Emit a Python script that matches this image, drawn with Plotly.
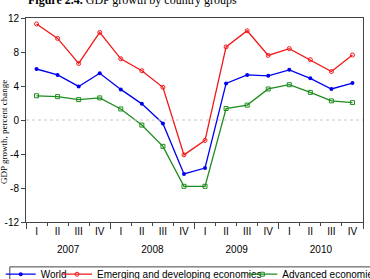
import plotly.graph_objects as go

quarters = ["I", "II", "III", "IV"] * 4
years = ["2007", "2008", "2009", "2010"]
world = [6.0, 5.3, 3.95, 5.5, 3.6, 1.9, -0.4, -6.35, -5.65, 4.3, 5.3, 5.2, 5.9, 4.9, 3.65, 4.35]
emerging = [11.3, 9.6, 6.65, 10.3, 7.2, 5.8, 3.85, -4.1, -2.4, 8.6, 10.5, 7.6, 8.4, 7.1, 5.7, 7.65]
advanced = [2.85, 2.75, 2.4, 2.6, 1.3, -0.6, -3.1, -7.8, -7.8, 1.35, 1.75, 3.65, 4.15, 3.25, 2.25, 2.05]
yticks = [12, 8, 4, 0, -4, -8, -12]
yticktext = ["12", "8", "4", "0", "-4", "-8", "-12"]

idx = list(range(len(quarters)))
qbounds = [i - 0.5 for i in range(len(quarters) + 1)]
ybounds = [i * 4 - 0.5 for i in range(len(years) + 1)]
ycenters = [i * 4 + 1.5 for i in range(len(years))]

fig = go.Figure()
fig.add_trace(go.Scatter(x=idx, y=world, name="World", mode="lines+markers",
                         line=dict(color="#0000F0", width=1.3),
                         marker=dict(symbol="circle", size=4, color="#0000F0"),
                         legend="legend"))
fig.add_trace(go.Scatter(x=idx, y=emerging, name="Emerging and developing economies", mode="lines+markers",
                         line=dict(color="#F01818", width=1.3),
                         marker=dict(symbol="circle-open", size=4, color="#F01818", line=dict(width=1)),
                         legend="legend2"))
fig.add_trace(go.Scatter(x=idx, y=advanced, name="Advanced economies", mode="lines+markers",
                         line=dict(color="#1E8C1E", width=1.3),
                         marker=dict(symbol="square-open", size=4, color="#1E8C1E", line=dict(width=1)),
                         legend="legend3"))

lfont = dict(family="Liberation Sans, Arial", size=10, color="black")
def leg(xp):
    return dict(orientation="h", x=xp, xanchor="left", y=-0.256, yanchor="middle",
                bgcolor="rgba(0,0,0,0)", borderwidth=0, font=lfont, itemwidth=30)

fig.update_layout(
    width=370, height=279,
    margin=dict(l=26, r=7, t=18, b=57, autoexpand=False),
    paper_bgcolor="white", plot_bgcolor="white",
    showlegend=True,
    legend=leg(-0.075),
    legend2=leg(0.092),
    legend3=leg(0.642),
    xaxis=dict(range=[-0.5, 15.5], tickvals=idx, ticktext=quarters, ticks="",
               tickfont=dict(family="Liberation Sans, Arial", size=10, color="black"),
               showline=True, linecolor="#444", linewidth=1, mirror=True, showgrid=False, zeroline=False,
               automargin=False,
               minor=dict(tickvals=qbounds, ticks="outside", ticklen=3, tickcolor="#444", showgrid=False)),
    xaxis2=dict(range=[-0.5, 15.5], overlaying="x", side="bottom", anchor="y",
                tickvals=ycenters, ticktext=years, ticks="", ticklabelstandoff=20,
                tickfont=dict(family="Liberation Sans, Arial", size=10, color="black"),
                showline=False, showgrid=False, zeroline=False, automargin=False,
                minor=dict(tickvals=ybounds, ticks="outside", ticklen=6, tickcolor="#444", showgrid=False)),
    yaxis=dict(range=[-12, 12], tickvals=yticks, ticktext=yticktext, ticks="outside", ticklen=4,
               tickcolor="#444", tickfont=dict(family="Liberation Sans, Arial", size=10, color="black"),
               showline=True, linecolor="#444", linewidth=1, mirror=True, showgrid=False, zeroline=False,
               automargin=False),
)
fig.add_trace(go.Scatter(x=[None], y=[None], xaxis="x2", showlegend=False, hoverinfo="skip"))

fig.add_hline(y=0, line=dict(color="#C8C8C8", width=1, dash="dot"))
fig.add_shape(type="rect", xref="paper", yref="paper", x0=-0.048, x1=1.1, y0=-0.22, y1=-0.3,
              line=dict(color="#444", width=1), fillcolor="rgba(0,0,0,0)")

fig.add_annotation(text="GDP growth, percent change", xref="paper", yref="paper",
                   x=-0.066, y=0.44, xanchor="center", yanchor="middle", textangle=-90, showarrow=False,
                   font=dict(family="Liberation Serif, DejaVu Serif", size=9, color="black"))
fig.add_annotation(text="<b>Figure 2.4.</b> GDP growth by country groups", xref="paper", yref="paper",
                   x=0.0, y=1.044, xanchor="left", yanchor="bottom", showarrow=False,
                   font=dict(family="Liberation Serif, DejaVu Serif", size=12, color="black"))

fig.write_html("out.html")
